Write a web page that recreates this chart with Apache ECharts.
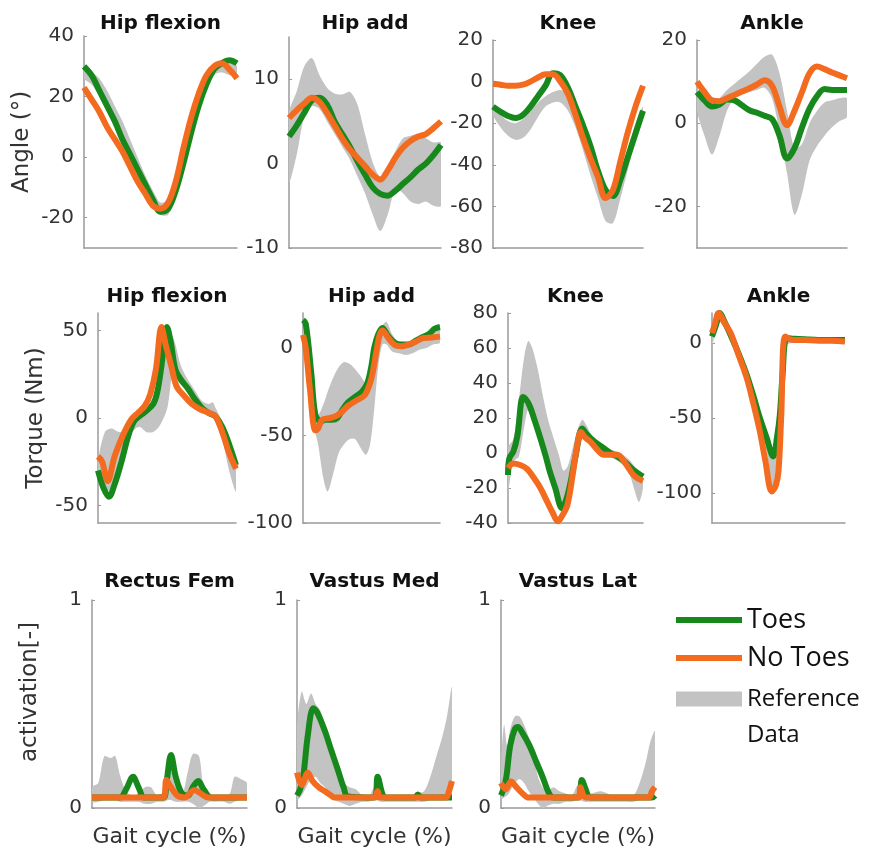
<!DOCTYPE html>
<html>
<head>
<meta charset="utf-8">
<script src="https://cdn.jsdelivr.net/npm/echarts@6/dist/echarts.min.js"></script>
<style>
  html, body { margin: 0; background: #fff; }
  #chart { width: 872px; height: 852px; }
</style>
</head>
<body>
<div id="chart"></div>
<script>
// gait cycle sample points (%) used by the joint angle panels
const cycle = [0, 5, 10, 15, 20, 25, 30, 35, 40, 45, 50, 55, 60, 65, 70, 75, 80, 85, 90, 95, 100];

// ---- joint angles (deg) ----
const hipFlexAngleToes   = [30, 27, 22, 17, 12, 6, 1, -4, -9, -14, -18, -17, -11, -2, 8, 17, 24, 29, 31, 32, 31];
const hipFlexAngleNoToes = [23, 19, 15, 10, 6, 2, -3, -8, -12, -16, -17, -15, -8, 3, 13, 21, 27, 30, 31, 29, 26];
const hipFlexAngleRefLo  = [26, 24, 20, 15, 10, 4, -1, -6, -11, -16, -19, -19, -13, -4, 6, 15, 22, 27, 28, 27, 27];
const hipFlexAngleRefHi  = [29, 28, 26, 22, 17, 12, 6, 0, -6, -11, -15, -14, -8, 1, 10, 18, 24, 28, 30, 31, 30];

const hipAddAngleToes   = [3.2, 4.5, 6, 7.5, 7.8, 7, 5, 3.5, 2, 0.3, -1.3, -2.8, -3.6, -3.8, -3.2, -2.4, -1.6, -0.7, 0, 1, 2.2];
const hipAddAngleNoToes = [5.4, 6.3, 7.1, 7.8, 7.3, 6, 4.5, 3, 1.7, 0.7, -0.3, -1.3, -1.9, -0.8, 0.7, 1.9, 2.7, 3.2, 3.5, 4.2, 5];
const hipAddAngleRefLo  = [-2.2, 1, 5.5, 6.8, 6.5, 5, 3.5, 2, 0.5, -1.5, -3.5, -6, -8, -6, -3, -3.5, -4.5, -4.8, -4.5, -5, -5];
const hipAddAngleRefHi  = [6, 8.5, 11.5, 12.5, 10.5, 9, 8.3, 8.2, 8.5, 7, 3.5, 0.2, -1.5, -0.2, 1.5, 3, 3.3, 3.5, 3, 2.5, 2.5];

const kneeAngleToes   = [-12, -14.5, -16.5, -17.5, -16, -12, -7, -2, 4, 3, -3, -12, -21, -31, -43, -52, -55, -47, -36, -25, -14];
const kneeAngleNoToes = [-1, -1.5, -2, -2, -1.5, 0, 2, 3.5, 3.5, 0, -6, -16, -27, -37, -46, -56, -52, -38, -24, -12, -2];
const kneeAngleRefLo  = [-16, -22, -26, -28, -27, -23, -17, -12, -10, -10, -14, -22, -33, -45, -56, -67, -68, -56, -42, -28, -18];
const kneeAngleRefHi  = [-12, -16, -19, -20, -18, -14, -10, -7, -5, -4, -6, -13, -23, -34, -45, -54, -54, -44, -32, -20, -12];

const ankleAngleToes   = [7.5, 5.5, 4, 4.5, 5.7, 5.5, 4.3, 3.1, 2.5, 1.8, 1, -3, -8.5, -6, -1, 3.5, 6.5, 8.2, 8, 8, 8];
const ankleAngleNoToes = [10, 7.5, 5.5, 5.3, 6, 6.8, 7.6, 8.4, 9.3, 10.3, 9, 4, -0.5, 3, 7.5, 12, 13.6, 13, 12.2, 11.5, 10.8];
const ankleAngleRefLo  = [3, -3, -7.5, -3, 3, 6, 7, 7.5, 8, 8.5, 6, -2, -12, -22, -17, -9, -5.5, -3, -1, 0.5, 1.5];
const ankleAngleRefHi  = [8, 6, 4.5, 6, 8, 9.5, 11, 12.5, 14.3, 16, 16.5, 12, 3, -6, -5, 0, 3, 5, 5.5, 6, 6];

// ---- joint torques (Nm): [gait %, value] and reference [gait %, low, high] ----
const hipFlexTorqueToes = [[0,-30],[4,-40],[8,-45],[12,-38],[17,-25],[22,-10],[26,-2],[30,1],[35,4],[40,8],[43,15],[46,30],[50,52],[53,42],[56,28],[60,22],[65,17],[70,11],[75,6],[80,3],[85,1],[90,-5],[95,-15],[100,-27]];
const hipFlexTorqueNoToes = [[0,-22],[3,-25],[7,-36],[12,-22],[18,-10],[24,-1],[29,3],[34,7],[38,14],[42,28],[46,52],[49,42],[53,30],[57,18],[62,13],[68,8],[74,5],[80,3],[85,1],[90,-8],[95,-20],[100,-29]];
const hipFlexTorqueRef = [[0,-35,-25],[5,-42,-8],[10,-40,-6],[15,-30,-8],[20,-18,-7],[25,-8,-3],[30,-5,0],[35,-8,4],[40,-8,10],[45,-4,25],[50,5,42],[52,15,48],[55,30,45],[60,22,30],[65,15,22],[70,9,16],[75,4,10],[80,1,8],[83,0,9],[85,-2,6],[90,-12,-2],[95,-30,-12],[100,-42,-25]];

const hipAddTorqueToes = [[0,16],[2,14],[6,-14],[9,-38],[13,-42],[16,-41],[21,-41],[25,-40],[29,-35],[33,-31],[38,-28],[43,-25],[47,-20],[50,-10],[52,0],[55,8],[58,11.5],[62,7],[67,3],[72,2],[77,2],[82,4],[86,5.7],[92,8],[96,11],[100,12]];
const hipAddTorqueNoToes = [[0,7.5],[2,0],[5,-23],[9,-47],[11,-46],[14,-41],[20,-40],[25,-38.5],[29,-36],[33,-33],[39,-30],[45,-27],[49,-20],[51,-13.6],[54,0],[56,7.5],[58,10],[62,6],[67,1.7],[72,1],[77,2],[82,3.5],[88,5.7],[94,6],[100,6.5]];
const hipAddTorqueRef = [[0,5,15],[5,-30,-5],[8,-45,-30],[11,-55,-38],[15,-75,-32],[18,-82,-25],[22,-72,-17],[26,-60,-11],[30,-55,-8],[34,-52,-9],[38,-52,-12],[42,-57,-16],[46,-61,-20],[49,-55,-18],[52,-35,-2],[55,-10,8],[58,2,13],[61,2,15],[65,-2,8],[70,-3,3],[75,-4,2],[80,-3,4],[85,-1,6],[90,0,8],[95,2,10],[100,3,10]];

const kneeTorqueToes = [[0,-12.6],[1,-3],[4,0.8],[7,10],[11,32],[13,31],[16,27],[20,18],[24,8.4],[28,-2],[31,-10.7],[35,-20],[40,-31.6],[43,-27],[46,-18],[50,-2],[55,14],[58,11],[64,6.5],[71,2.7],[76,0],[81,-2],[87,-5.5],[93,-9.7],[100,-13.5]];
const kneeTorqueNoToes = [[0,-8.6],[4,-6],[9,-6.9],[14,-9],[19,-14],[24,-20],[29,-27.8],[33,-34],[37,-39],[40,-36],[44,-29.7],[48,-12],[51,3],[54,12],[57,9],[61,6.5],[66,2],[71,-1],[76,-1],[81,-1],[87,-6],[93,-12.6],[100,-16]];
const kneeTorqueRef = [[0,-22,3],[4,-5,8],[8,-2,30],[12,15,55],[15,25,64],[18,22,60],[22,12,48],[26,2,32],[30,-8,18],[34,-18,8],[38,-25,-2],[41,-30,-10],[44,-28,-8],[47,-22,0],[51,-5,12],[55,8,19],[58,8,16],[62,4,10],[66,2,7],[70,0,5],[75,-2,2],[80,-4,1],[85,-6,-1],[90,-12,-4],[94,-22,-8],[97,-28,-12],[100,-20,-12]];

const ankleTorqueToes = [[0,4.4],[3,12],[6,20],[9,15],[14,5.5],[20,-7],[26,-21],[31,-35],[36,-50],[41,-63],[46,-75.6],[49,-62],[51,-48],[53,-22],[56,3.3],[60,3],[70,2.5],[80,2],[90,2],[100,2]];
const ankleTorqueNoToes = [[0,6.7],[2,12],[5,20],[9,14],[14,6.7],[20,-8],[26,-23],[31,-40],[36,-59],[40,-78],[45,-99],[48,-95],[50,-85.5],[52,-50],[55,4.4],[60,2.2],[70,2],[80,1.5],[90,1.5],[100,1]];
const ankleTorqueRef = [[0,-2,6],[3,8,16],[6,14,21],[9,10,17],[14,0,8],[20,-12,-4],[26,-26,-18],[31,-40,-30],[36,-58,-45],[41,-72,-58],[45,-95,-70],[48,-98,-72],[51,-80,-45],[53,-45,-15],[56,-2,5],[60,0,3.5],[70,0,3.5],[80,0,3.5],[90,0,3.5],[100,0,3.5]];

// ---- muscle activation (-) ----
const rectusFemToes = [[0,0.05],[18,0.05],[22,0.09],[26.5,0.15],[30,0.1],[34,0.05],[46,0.05],[48,0.12],[51,0.255],[54,0.15],[58,0.07],[62,0.06],[65,0.1],[68.5,0.13],[72,0.09],[77,0.05],[100,0.05]];
const rectusFemNoToes = [[0,0.05],[46,0.05],[48,0.135],[51,0.1],[55,0.06],[60,0.05],[63,0.07],[66,0.087],[70,0.07],[75,0.05],[100,0.05]];
const rectusFemRef = [[0,0.03,0.1],[4,0.03,0.12],[8,0.04,0.25],[12,0.04,0.24],[15,0.04,0.25],[18,0.03,0.16],[22,0.03,0.08],[26,0.03,0.06],[30,0.03,0.07],[34,0.02,0.1],[38,0.02,0.1],[42,0.03,0.06],[46,0.03,0.08],[50,0.04,0.2],[54,0.03,0.1],[58,0.03,0.06],[62,0.03,0.18],[65,0.02,0.26],[69,0,0.25],[72,0.01,0.1],[76,0.03,0.05],[80,0.03,0.05],[85,0.03,0.05],[89,0.02,0.07],[92,0.03,0.15],[96,0.04,0.14],[100,0.04,0.12]];

const vastusMedToes = [[0,0.06],[2,0.09],[4,0.15],[7,0.35],[10.5,0.48],[13,0.46],[18,0.37],[22,0.28],[26.5,0.18],[30,0.1],[33,0.055],[50,0.05],[52,0.15],[55,0.07],[57,0.05],[76,0.05],[78,0.065],[80,0.05],[100,0.05]];
const vastusMedNoToes = [[0,0.17],[3,0.11],[7,0.17],[10,0.13],[14,0.1],[18,0.08],[22,0.06],[24,0.05],[50,0.05],[52,0.08],[54,0.05],[96,0.05],[98,0.08],[100,0.13]];
const vastusMedRef = [[0,0.04,0.38],[3,0.06,0.56],[6,0.1,0.5],[9,0.14,0.55],[12,0.15,0.5],[15,0.12,0.47],[18,0.1,0.4],[21,0.07,0.32],[24,0.04,0.24],[27,0.03,0.16],[30,0.02,0.12],[34,0.01,0.1],[38,0.02,0.09],[42,0.03,0.06],[46,0.03,0.05],[50,0.04,0.1],[54,0.03,0.08],[58,0.03,0.06],[65,0.03,0.05],[72,0.03,0.05],[78,0.03,0.07],[82,0.03,0.08],[86,0.04,0.15],[90,0.05,0.25],[94,0.05,0.35],[97,0.05,0.45],[100,0.05,0.58]];

const vastusLatToes = [[0,0.06],[2,0.1],[3.5,0.15],[6,0.3],[9,0.38],[11,0.39],[14,0.36],[18.5,0.3],[23,0.22],[27,0.15],[30,0.09],[32,0.06],[34,0.05],[50,0.05],[52.5,0.135],[55,0.09],[58,0.05],[98,0.05],[100,0.06]];
const vastusLatNoToes = [[0,0.12],[3,0.09],[6.5,0.127],[10,0.1],[14,0.07],[18,0.05],[50,0.05],[51.6,0.1],[53.5,0.06],[56,0.05],[96,0.05],[98,0.08],[100,0.1]];
const vastusLatRef = [[0,0.04,0.2],[2,0.05,0.4],[4,0.06,0.3],[6,0.08,0.38],[9,0.12,0.44],[12,0.14,0.44],[15,0.12,0.4],[18,0.08,0.34],[21,0.05,0.25],[24,0.02,0.15],[27,0,0.1],[30,0.01,0.08],[34,0.02,0.1],[38,0.02,0.08],[42,0.03,0.07],[46,0.03,0.06],[50,0.04,0.11],[54,0.03,0.09],[58,0.03,0.07],[65,0.03,0.08],[72,0.03,0.06],[80,0.03,0.05],[86,0.03,0.06],[90,0.04,0.12],[94,0.05,0.22],[97,0.05,0.32],[100,0.05,0.37]];

const GREEN = '#17891c', ORANGE = '#f26b1f', GREY = '#c3c3c3', AXIS = '#9a9a9a', INK = '#333';

const pairs = (xs, ys) => xs.map((x, i) => [x, ys[i]]);
const band = (xs, lo, hi) => xs.map((x, i) => [x, lo[i], hi[i]]);

// box = [left, top, right, bottom] of each plot area
const panels = [
  { title: 'Hip flexion', box: [84, 36, 237, 248], titleTop: 14, min: -30, max: 40, ticks: [-20, 0, 20, 40], yName: 'Angle (°)',
    toes: pairs(cycle, hipFlexAngleToes), noToes: pairs(cycle, hipFlexAngleNoToes), ref: band(cycle, hipFlexAngleRefLo, hipFlexAngleRefHi) },
  { title: 'Hip add', box: [289, 37, 441, 248], titleTop: 14, min: -10, max: 15, ticks: [-10, 0, 10],
    toes: pairs(cycle, hipAddAngleToes), noToes: pairs(cycle, hipAddAngleNoToes), ref: band(cycle, hipAddAngleRefLo, hipAddAngleRefHi) },
  { title: 'Knee', box: [493, 40, 643, 248], titleTop: 14, min: -80, max: 20, ticks: [-80, -60, -40, -20, 0, 20],
    toes: pairs(cycle, kneeAngleToes), noToes: pairs(cycle, kneeAngleNoToes), ref: band(cycle, kneeAngleRefLo, kneeAngleRefHi) },
  { title: 'Ankle', box: [697, 40, 847, 248], titleTop: 14, min: -30, max: 20, ticks: [-20, 0, 20],
    toes: pairs(cycle, ankleAngleToes), noToes: pairs(cycle, ankleAngleNoToes), ref: band(cycle, ankleAngleRefLo, ankleAngleRefHi) },

  { title: 'Hip flexion', box: [98, 313, 236, 523], titleTop: 287, min: -60, max: 60, ticks: [-50, 0, 50], yName: 'Torque (Nm)',
    toes: hipFlexTorqueToes, noToes: hipFlexTorqueNoToes, ref: hipFlexTorqueRef },
  { title: 'Hip add', box: [303, 313, 440, 523], titleTop: 287, min: -100, max: 20, ticks: [-100, -50, 0],
    toes: hipAddTorqueToes, noToes: hipAddTorqueNoToes, ref: hipAddTorqueRef },
  { title: 'Knee', box: [508, 313, 643, 523], titleTop: 287, min: -40, max: 80, ticks: [-40, -20, 0, 20, 40, 60, 80],
    toes: kneeTorqueToes, noToes: kneeTorqueNoToes, ref: kneeTorqueRef },
  { title: 'Ankle', box: [712, 313, 845, 523], titleTop: 287, min: -120, max: 20, ticks: [-100, -50, 0],
    toes: ankleTorqueToes, noToes: ankleTorqueNoToes, ref: ankleTorqueRef },

  { title: 'Rectus Fem', box: [92, 600, 247, 808], titleTop: 572, min: 0, max: 1, ticks: [0, 1], yName: 'activation[-]', yNameShift: 24, xName: 'Gait cycle (%)',
    toes: rectusFemToes, noToes: rectusFemNoToes, ref: rectusFemRef },
  { title: 'Vastus Med', box: [297, 600, 452, 808], titleTop: 572, min: 0, max: 1, ticks: [0, 1], xName: 'Gait cycle (%)',
    toes: vastusMedToes, noToes: vastusMedNoToes, ref: vastusMedRef },
  { title: 'Vastus Lat', box: [501, 600, 655, 808], titleTop: 572, min: 0, max: 1, ticks: [0, 1], xName: 'Gait cycle (%)',
    toes: vastusLatToes, noToes: vastusLatNoToes, ref: vastusLatRef }
];

const grid = [], xAxis = [], yAxis = [], title = [], series = [];

panels.forEach((p, i) => {
  const [l, t, r, b] = p.box;
  grid.push({ left: l, top: t, width: r - l, height: b - t, outerBoundsMode: 'none' });
  title.push({
    text: p.title, left: (l + r) / 2, top: p.titleTop, textAlign: 'center', padding: 0,
    textStyle: { fontFamily: 'DejaVu Sans', fontWeight: 'bold', fontSize: 20, color: '#111' }
  });
  xAxis.push({
    gridIndex: i, type: 'value', min: 0, max: 100,
    axisLine: { onZero: false, lineStyle: { color: AXIS, width: 1.5 } },
    axisTick: { show: false }, axisLabel: { show: false }, splitLine: { show: false },
    name: p.xName || '', nameLocation: 'middle', nameGap: 18,
    nameTextStyle: { fontFamily: 'DejaVu Sans', fontSize: 22, color: INK }
  });
  yAxis.push({
    gridIndex: i, type: 'value', min: p.min, max: p.max,
    axisLine: { show: true, onZero: false, lineStyle: { color: AXIS, width: 1.5 } },
    axisTick: { show: true, inside: true, length: 3, customValues: p.ticks, lineStyle: { color: AXIS } },
    axisLabel: { customValues: p.ticks, margin: 10, fontFamily: 'DejaVu Sans', fontSize: 20, color: INK },
    splitLine: { show: false },
    name: p.yName || '', nameLocation: 'middle', nameGap: 50,
    nameTextStyle: { fontFamily: 'DejaVu Sans', fontSize: 23, color: INK, padding: [0, 0, 0, p.yNameShift || 0] }
  });

  // reference corridor: polygon between the low and high curves, placed with the axis scales
  series.push({
    type: 'custom', name: 'Reference Data', xAxisIndex: i, yAxisIndex: i,
    color: GREY, itemStyle: { color: GREY }, clip: true,
    data: p.ref,
    encode: { x: 0, y: [1, 2] },
    renderItem: (params, api) => {
      if (params.dataIndex !== 0) return null;
      const upper = p.ref.map(d => api.coord([d[0], d[2]]));
      const lower = p.ref.map(d => api.coord([d[0], d[1]])).reverse();
      return {
        type: 'polygon',
        shape: { points: upper.concat(lower), smooth: 0.3 },
        style: { fill: GREY }
      };
    }
  });
  series.push({
    type: 'line', name: 'Toes', xAxisIndex: i, yAxisIndex: i, color: GREEN,
    smooth: 0.35, symbol: 'none', itemStyle: { color: GREEN },
    lineStyle: { width: 6, color: GREEN }, data: p.toes
  });
  series.push({
    type: 'line', name: 'No Toes', xAxisIndex: i, yAxisIndex: i, color: ORANGE,
    smooth: 0.35, symbol: 'none', itemStyle: { color: ORANGE },
    lineStyle: { width: 6, color: ORANGE }, data: p.noToes
  });
});

const legendText = { fontFamily: 'Open Sans', color: '#111' };
const legend = [
  { data: [{ name: 'Toes', icon: 'rect' }], left: 676, top: 605, padding: 0, itemWidth: 66, itemHeight: 6,
    selectedMode: false, textStyle: Object.assign({ fontSize: 27, lineHeight: 30 }, legendText) },
  { data: [{ name: 'No Toes', icon: 'rect' }], left: 676, top: 643, padding: 0, itemWidth: 66, itemHeight: 6,
    selectedMode: false, textStyle: Object.assign({ fontSize: 27, lineHeight: 30 }, legendText) },
  // blank first line keeps "Reference" level with the grey swatch, "Data" wraps below it
  { data: [{ name: 'Reference Data', icon: 'rect' }], left: 676, top: 645, padding: 0, itemWidth: 66, itemHeight: 15,
    selectedMode: false, formatter: () => ' \nReference\nData',
    textStyle: Object.assign({ fontSize: 24, lineHeight: 36 }, legendText) }
];

const chart = echarts.init(document.getElementById('chart'), null, { renderer: 'canvas' });
chart.setOption({
  animation: false,
  backgroundColor: '#fff',
  title, grid, xAxis, yAxis, legend, series
});
</script>
</body>
</html>
